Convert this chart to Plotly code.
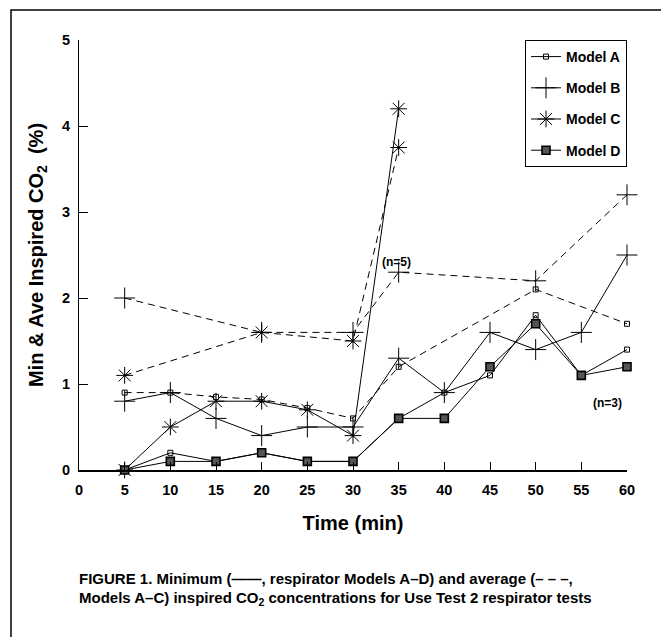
import plotly.graph_objects as go

# ---- data ----
time = [5, 10, 15, 20, 25, 30, 35, 40, 45, 50, 55, 60]
a_min = [0.0, 0.2, 0.1, 0.2, 0.1, 0.1, 0.6, 0.9, 1.1, 1.8, 1.1, 1.4]
b_min = [0.8, 0.9, 0.6, 0.4, 0.5, 0.5, 1.3, 0.9, 1.6, 1.4, 1.6, 2.5]
c_min_time = [5, 10, 15, 20, 25, 30, 35]
c_min = [0.0, 0.5, 0.8, 0.8, 0.7, 0.4, 4.2]
d_min = [0.0, 0.1, 0.1, 0.2, 0.1, 0.1, 0.6, 0.6, 1.2, 1.7, 1.1, 1.2]

a_avg_time = [5, 10, 15, 20, 25, 30, 35, 50, 60]
a_avg = [0.9, 0.9, 0.85, 0.82, 0.72, 0.6, 1.2, 2.1, 1.7]
b_avg_time = [5, 20, 30, 35, 50, 60]
b_avg = [2.0, 1.6, 1.6, 2.3, 2.2, 3.2]
c_avg_time = [5, 20, 30, 35]
c_avg = [1.1, 1.6, 1.5, 3.75]

x_ticks = [0, 5, 10, 15, 20, 25, 30, 35, 40, 45, 50, 55, 60]
y_ticks = [0, 1, 2, 3, 4, 5]

FONT = "Liberation Sans, Arial, sans-serif"

styles = {
    "A": dict(symbol="square-open", size=5, color="black", line=dict(color="black", width=1)),
    "B": dict(symbol="cross-thin-open", size=15, color="black", line=dict(color="black", width=1)),
    "C": dict(symbol="asterisk-open", size=14, color="black", line=dict(color="black", width=1)),
    "D": dict(symbol="square", size=8, color="#555555", line=dict(color="black", width=1.6)),
}

fig = go.Figure()

mins = [("A", time, a_min), ("B", time, b_min), ("C", c_min_time, c_min), ("D", time, d_min)]
for name, xs, ys in mins:
    fig.add_trace(go.Scatter(
        x=xs, y=ys, mode="lines+markers", name="Model " + name,
        legendgroup=name,
        line=dict(color="black", width=1),
        marker=styles[name], cliponaxis=False,
    ))

avgs = [("A", a_avg_time, a_avg), ("B", b_avg_time, b_avg), ("C", c_avg_time, c_avg)]
for name, xs, ys in avgs:
    fig.add_trace(go.Scatter(
        x=xs, y=ys, mode="lines+markers", name="Model " + name + " (avg)",
        legendgroup=name, showlegend=False,
        line=dict(color="black", width=1, dash="7px,5px"),
        marker=styles[name], cliponaxis=False,
    ))

# page body adds an 8px offset; figure coordinates = screen - 8
fig.update_layout(
    width=661, height=629,
    margin=dict(l=71, r=42, t=32, b=167, autoexpand=False),
    paper_bgcolor="white", plot_bgcolor="white",
    font=dict(family=FONT, color="black", size=14),
    showlegend=True,
    legend=dict(
        x=1, y=1, xanchor="right", yanchor="top",
        bordercolor="black", borderwidth=1, bgcolor="white",
        font=dict(family=FONT, size=14, weight="bold"),
        tracegroupgap=10, itemwidth=30,
    ),
    xaxis=dict(
        range=[0, 60], tickvals=x_ticks, ticktext=[str(v) for v in x_ticks],
        ticks="inside", ticklen=8, tickcolor="black",
        showline=True, linecolor="black", linewidth=1.5,
        showgrid=False, zeroline=False, automargin=False,
        tickfont=dict(family=FONT, size=14.5, weight="bold"),
        ticklabelstandoff=6,
        title=dict(text="Time (min)", font=dict(family=FONT, size=20, weight="bold"), standoff=19),
    ),
    yaxis=dict(
        range=[0, 5], tickvals=y_ticks, ticktext=[str(v) for v in y_ticks],
        ticks="inside", ticklen=9, tickcolor="black",
        showline=True, linecolor="black", linewidth=1,
        showgrid=False, zeroline=False, automargin=False,
        tickfont=dict(family=FONT, size=14.5, weight="bold"),
        ticklabelstandoff=5,
        title=dict(text="Min & Ave Inspired CO<sub>2</sub>  (%)",
                   font=dict(family=FONT, size=20, weight="bold"), standoff=13),
    ),
)

# n annotations
fig.add_annotation(x=34.8, y=2.42, text="(n=5)", showarrow=False,
                   font=dict(family=FONT, size=12, weight="bold"))
fig.add_annotation(x=57.9, y=0.78, text="(n=3)", showarrow=False,
                   font=dict(family=FONT, size=12, weight="bold"))

# caption (positions given in screen pixels of the reference)
pw, ph = 548.0, 430.0
def px(xp):
    return (xp - 79) / pw
def py(yp):
    return (470 - yp) / ph

fig.add_annotation(xref="paper", yref="paper", x=px(77), y=py(578), xanchor="left", yanchor="middle",
                   text="FIGURE 1. Minimum (——, respirator Models A–D) and average (– – –,",
                   showarrow=False, align="left",
                   font=dict(family=FONT, size=15, weight="bold"))
fig.add_annotation(xref="paper", yref="paper", x=px(77), y=py(598), xanchor="left", yanchor="middle",
                   text="Models A–C) inspired CO<sub>2</sub> concentrations for Use Test 2 respirator tests",
                   showarrow=False, align="left",
                   font=dict(family=FONT, size=15, weight="bold"))

# outer frame
fig.add_shape(type="rect", xref="paper", yref="paper",
              x0=px(11), x1=px(664), y0=py(650), y1=py(10),
              line=dict(color="black", width=1.5), fillcolor="rgba(0,0,0,0)", layer="below")

fig.write_html("out.html")
